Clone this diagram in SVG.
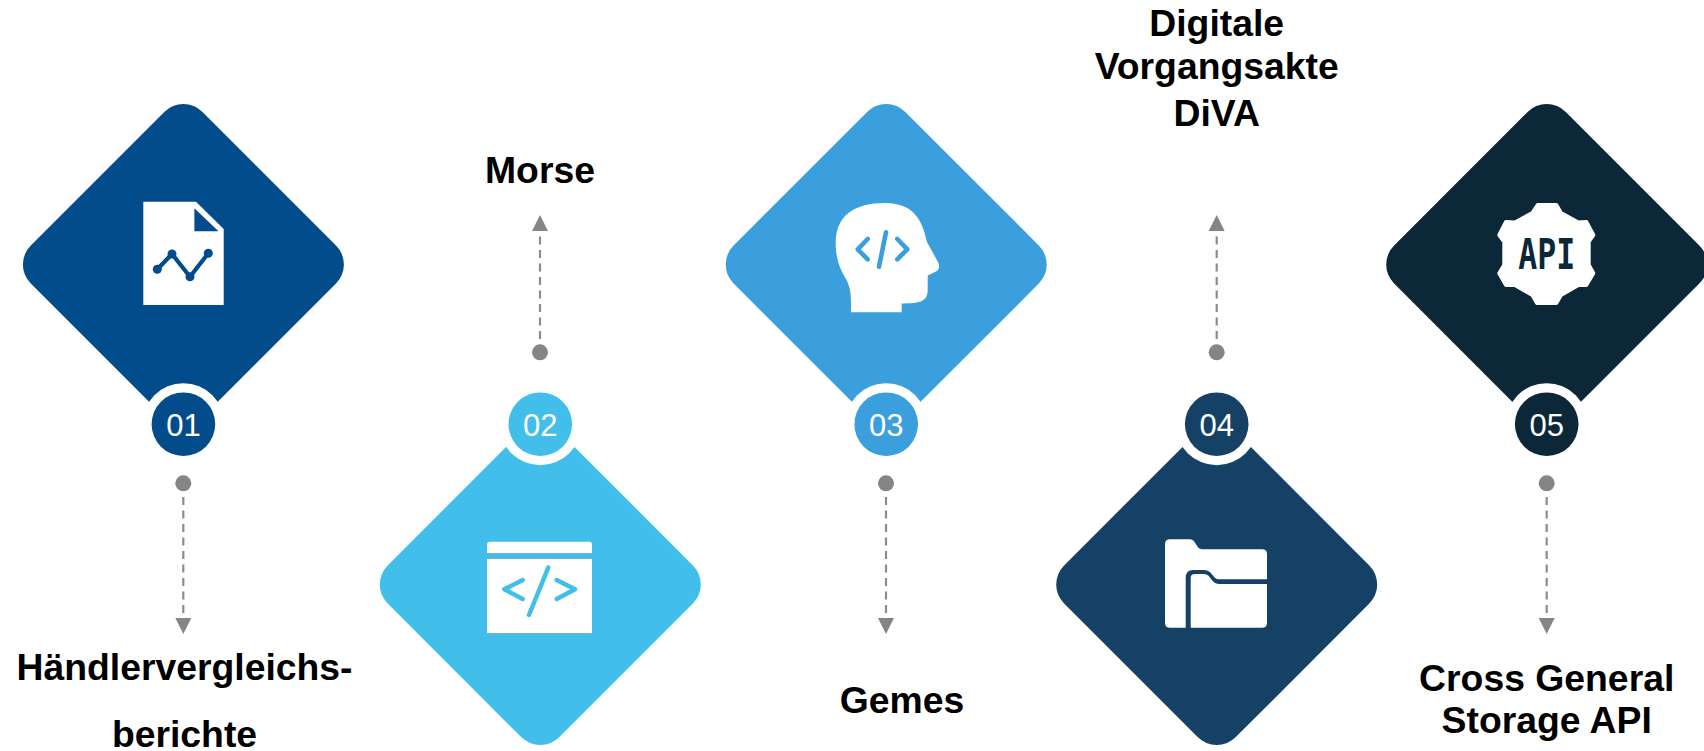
<svg xmlns="http://www.w3.org/2000/svg" width="1704" height="751" viewBox="0 0 1704 751">
<style>
text{font-family:"Liberation Sans",Arial,sans-serif}
.lb{font-size:37.33px;font-weight:700;fill:#000;text-anchor:middle}
.num{font-size:31px;fill:#fff;text-anchor:middle}
.c{stroke:#8c8c8c;stroke-width:2.2;stroke-dasharray:8 5.5;fill:none}
.dot{fill:#858585}
.ah{fill:#858585}
.w{fill:#fff}
.ic{fill:none;stroke-linecap:round;stroke-linejoin:round}
</style>
<defs>
<rect id="dm" x="-121.4" y="-121.4" width="242.8" height="242.8" rx="27" ry="27" transform="rotate(45)"/>
</defs>
<g id="connectors">
<circle class="dot" cx="183.3" cy="483.3" r="8"/><line class="c" x1="183.3" y1="497" x2="183.3" y2="620"/><polygon class="ah" points="175.3,618 191.3,618 183.3,634"/>
<circle class="dot" cx="540" cy="352.3" r="8"/><line class="c" x1="540" y1="339" x2="540" y2="230"/><polygon class="ah" points="532,231 548,231 540,215"/>
<circle class="dot" cx="886" cy="483.3" r="8"/><line class="c" x1="886" y1="497" x2="886" y2="620"/><polygon class="ah" points="878,618 894,618 886,634"/>
<circle class="dot" cx="1216.7" cy="352.3" r="8"/><line class="c" x1="1216.7" y1="339" x2="1216.7" y2="230"/><polygon class="ah" points="1208.7,231 1224.7,231 1216.7,215"/>
<circle class="dot" cx="1546.7" cy="483.3" r="8"/><line class="c" x1="1546.7" y1="497" x2="1546.7" y2="620"/><polygon class="ah" points="1538.7,618 1554.7,618 1546.7,634"/>
</g>
<g id="node-01">
<use href="#dm" transform="translate(183.4 264.5)" fill="#034c8c"/>
<circle class="w" cx="183.4" cy="424.2" r="41"/><circle cx="183.4" cy="424.2" r="31.8" fill="#034c8c"/>
<text class="num" x="183.4" y="435.5">01</text>
<path class="w" d="M143.3 201.7H196L223.7 229V305H143.3Z"/>
<path d="M194.4 208.3V231.3H218.5Z" fill="#034c8c"/>
<path class="ic" d="M157.3 269.3L172 254L190 276.7L208.3 253.3" stroke="#034c8c" stroke-width="4.2"/>
<g fill="#034c8c"><circle cx="157.3" cy="269.3" r="4.5"/><circle cx="172" cy="254" r="4.5"/><circle cx="190" cy="276.7" r="4.5"/><circle cx="208.3" cy="253.3" r="4.5"/></g>
<text class="lb" x="184.5" y="680.2">Händlervergleichs-</text>
<text class="lb" x="184.5" y="747.2">berichte</text>
</g>
<g id="node-02">
<use href="#dm" transform="translate(540.3 584.5)" fill="#42beea"/>
<circle class="w" cx="540.3" cy="424.2" r="41"/><circle cx="540.3" cy="424.2" r="31.8" fill="#42beea"/>
<text class="num" x="540.3" y="435.5">02</text>
<path class="w" d="M487 553.3V544.7Q487 541.7 490 541.7H589Q592 541.7 592 544.7V553.3Z"/>
<rect class="w" x="487" y="559" width="105" height="74.3"/>
<g fill="#6fb2cf"><rect x="487" y="553.3" width="105" height="1"/><rect x="487" y="558" width="105" height="1"/><rect x="487" y="633" width="105" height="1"/></g>
<path class="ic" d="M522.7 580L504.3 589.3L522.7 599M556.7 580L575 589.3L556.7 599M548.3 567.7L529 615" stroke="#42beea" stroke-width="4.5"/>
<text class="lb" x="540" y="183">Morse</text>
</g>
<g id="node-03">
<use href="#dm" transform="translate(886.2 264.5)" fill="#3a9fdc"/>
<circle class="w" cx="886.2" cy="424.2" r="41"/><circle cx="886.2" cy="424.2" r="31.8" fill="#3a9fdc"/>
<text class="num" x="886.2" y="435.5">03</text>
<path class="w" d="M851 312.3H901.7V303.5C915 303 927.7 304 927.7 290V275.5L936 271.5C940 269 939.5 265 938 262L927 242C923 225 917 203 885 203C855 203 835.7 215 835.7 243C835.7 262 842 272 846 279C850 286 851 294 851 302Z"/>
<path class="ic" d="M867.7 239L857.7 249.3L867.7 259.3M897.3 239L907.3 249.3L897.3 259.3M886 232.3L879 266.7" stroke="#3a9fdc" stroke-width="4.6"/>
<text class="lb" x="902" y="712.8">Gemes</text>
</g>
<g id="node-04">
<use href="#dm" transform="translate(1216.7 584.5)" fill="#164166"/>
<circle class="w" cx="1216.7" cy="424.2" r="41"/><circle cx="1216.7" cy="424.2" r="31.8" fill="#164166"/>
<text class="num" x="1216.7" y="435.5">04</text>
<path class="w" d="M1165 544Q1165 539.3 1170 539.3H1190C1196 539.3 1196 549.3 1202 549.3H1262Q1267 549.3 1267 554V579.3H1219C1212 579.3 1213 570 1204 570H1193Q1185.7 570 1185.7 578V627.7H1170Q1165 627.7 1165 623Z"/>
<path class="w" d="M1190.7 627.7V578Q1190.7 574 1195 574H1204C1211 574 1211 584 1219 584H1267V623Q1267 627.7 1262 627.7Z"/>
<text class="lb" x="1216.7" y="36">Digitale</text>
<text class="lb" x="1216.7" y="78.7">Vorgangsakte</text>
<text class="lb" x="1216.7" y="125.5">DiVA</text>
</g>
<g id="node-05">
<use href="#dm" transform="translate(1546.7 264.5)" fill="#0c2738"/>
<circle class="w" cx="1546.7" cy="424.2" r="41"/><circle cx="1546.7" cy="424.2" r="31.8" fill="#0c2738"/>
<text class="num" x="1546.7" y="435.5">05</text>
<polygon class="w" stroke="#fff" stroke-width="4" stroke-linejoin="round" points="1537.7,205 1556.3,205 1561,213 1578.3,222.5 1586.3,222 1593.3,235 1588.7,241.7 1588.7,265 1593.3,273.3 1586.3,285 1578.3,285 1561,295 1556.3,303 1537,303 1532.4,295 1515,285 1506,285 1499.3,273.3 1504.3,265 1504.3,241.7 1499.3,235 1506,222 1515,222.5 1532.4,213"/>
<text x="1546.7" y="269.3" text-anchor="middle" font-size="42" font-weight="700" fill="#0c2738" style="font-family:'DejaVu Sans Mono',monospace" textLength="57" lengthAdjust="spacingAndGlyphs">API</text>
<text class="lb" x="1546.7" y="691.3">Cross General</text>
<text class="lb" x="1546.7" y="733.3">Storage API</text>
</g>
</svg>
